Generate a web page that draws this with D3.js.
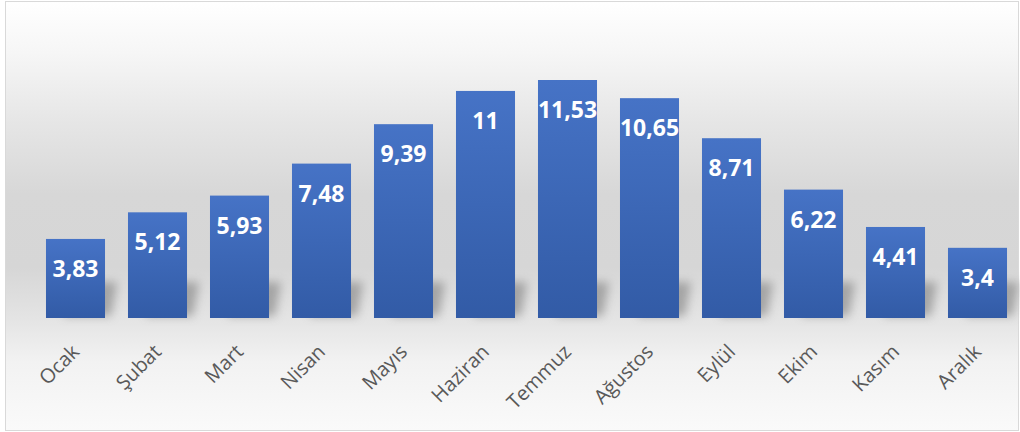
<!DOCTYPE html>
<html>
<head>
<meta charset="utf-8">
<script src="https://cdn.jsdelivr.net/npm/d3@7/dist/d3.min.js"></script>
<style>
  html, body { margin: 0; padding: 0; background: #ffffff; }
  svg { display: block; }
</style>
</head>
<body>
<div id="chart"></div>
<script>
// Monthly values
const months = ["Ocak", "Şubat", "Mart", "Nisan", "Mayıs", "Haziran",
                "Temmuz", "Ağustos", "Eylül", "Ekim", "Kasım", "Aralık"];
const values = [3.83, 5.12, 5.93, 7.48, 9.39, 11, 11.53, 10.65, 8.71, 6.22, 4.41, 3.4];
const valueLabels = ["3,83", "5,12", "5,93", "7,48", "9,39", "11", "11,53", "10,65", "8,71", "6,22", "4,41", "3,4"];

const W = 1020, H = 432;
const svg = d3.select("#chart").append("svg")
  .attr("width", W).attr("height", H);

const defs = svg.append("defs");

// Chart-area background: white at top, grey band behind the bars, fading out below
const bg = defs.append("linearGradient")
  .attr("id", "bgGrad").attr("x1", 0).attr("y1", 0).attr("x2", 0).attr("y2", 1);
[[0, "#ffffff"], [0.12, "#f6f6f6"], [0.28, "#e6e6e6"], [0.45, "#d7d7d7"],
 [0.62, "#d6d6d6"], [0.74, "#e4e4e4"], [0.84, "#f2f2f2"], [1, "#fafafa"]]
  .forEach(([o, c]) => bg.append("stop").attr("offset", o).attr("stop-color", c));

// Bar fill: lighter blue at the top, deeper at the base
const barGrad = defs.append("linearGradient")
  .attr("id", "barGrad").attr("x1", 0).attr("y1", 0).attr("x2", 0).attr("y2", 1);
barGrad.append("stop").attr("offset", 0).attr("stop-color", "#4673c6");
barGrad.append("stop").attr("offset", 1).attr("stop-color", "#325ba6");

// Soft floor shadow
defs.append("filter").attr("id", "shadowBlur")
  .attr("x", "-50%").attr("y", "-50%").attr("width", "200%").attr("height", "200%")
  .append("feGaussianBlur").attr("stdDeviation", 5);

svg.append("rect")
  .attr("x", 5.5).attr("y", 1.5).attr("width", W - 7).attr("height", H - 3)
  .attr("fill", "url(#bgGrad)")
  .attr("stroke", "#d9d9d9").attr("stroke-width", 1);

const x = d3.scaleBand()
  .domain(months)
  .range([34.5, 1018.5])
  .paddingInner(0.28)
  .paddingOuter(0.14);

const y = d3.scaleLinear()
  .domain([0, 12])
  .range([318, 70.3]);

const data = months.map((m, i) => ({ month: m, value: values[i], label: valueLabels[i] }));

// Shadows behind the bars
svg.append("g").selectAll("path")
  .data(data)
  .join("path")
  .attr("d", d => {
    const x0 = x(d.month) + x.bandwidth() * 0.3;
    const x1 = x(d.month) + x.bandwidth() + 12;
    const yb = y(0) - 2;
    const yt = yb - 34;
    return `M${x0},${yb} L${x1 - 6},${yb} L${x1},${yt} L${x0 + 6},${yt} Z`;
  })
  .attr("fill", "#8c8c8c")
  .attr("opacity", 0.7)
  .attr("filter", "url(#shadowBlur)");

// Bars
svg.append("g").selectAll("rect")
  .data(data)
  .join("rect")
  .attr("x", d => x(d.month))
  .attr("y", d => y(d.value))
  .attr("width", x.bandwidth())
  .attr("height", d => y(0) - y(d.value))
  .attr("fill", "url(#barGrad)");

// Value labels inside the top of each bar
svg.append("g").selectAll("text")
  .data(data)
  .join("text")
  .attr("x", d => x(d.month) + x.bandwidth() / 2)
  .attr("y", d => y(d.value) + 38)
  .attr("text-anchor", "middle")
  .attr("font-family", "'Open Sans', sans-serif")
  .attr("font-weight", 700)
  .attr("font-size", 23)
  .attr("fill", "#ffffff")
  .text(d => d.label);

// Category axis with rotated labels
const xAxis = svg.append("g")
  .attr("transform", `translate(0,${y(0)})`)
  .call(d3.axisBottom(x).tickSize(0).tickPadding(0));
xAxis.select(".domain").remove();
xAxis.selectAll("text")
  .attr("font-family", "'Open Sans', sans-serif")
  .attr("font-size", 20)
  .attr("fill", "#595959")
  .attr("text-anchor", "end")
  .attr("dy", 0)
  .attr("transform", "translate(5,35) rotate(-45)");
</script>
</body>
</html>
